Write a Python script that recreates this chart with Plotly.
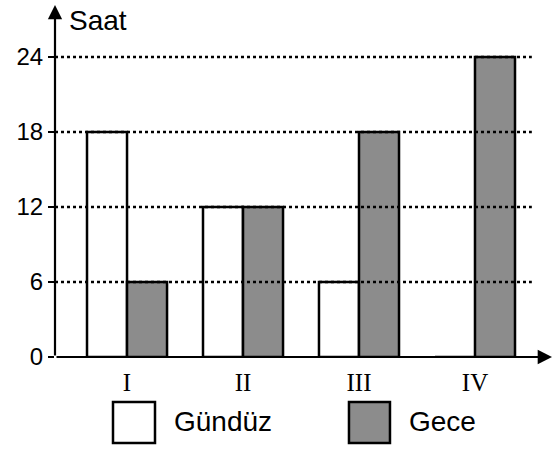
import plotly.graph_objects as go

categories = [1, 2, 3, 4]
category_labels = ["I", "II", "III", "IV"]
gunduz = [18, 12, 6, 0]
gece = [6, 12, 18, 24]
y_ticks = [0, 6, 12, 18, 24]
series_names = ["Gündüz", "Gece"]
axis_title = "Saat"

X0, X1 = 0.379, 4.664
Y1 = 28.16

fig = go.Figure()
fig.add_trace(go.Bar(x=categories, y=gunduz, name=series_names[0],
                     marker=dict(color="white", line=dict(color="black", width=2.5))))
fig.add_trace(go.Bar(x=categories, y=gece, name=series_names[1],
                     marker=dict(color="#8c8c8c", line=dict(color="black", width=2.5))))

# dotted gridlines
for v in y_ticks[1:]:
    fig.add_shape(type="line", xref="x", yref="y", x0=X0, x1=4.49, y0=v, y1=v,
                  line=dict(color="black", width=2.5, dash="dot"), layer="above")

# axes with arrows
fig.add_annotation(x=X0, y=Y1, ax=X0, ay=0, xref="x", yref="y", axref="x", ayref="y",
                   showarrow=True, arrowhead=2, arrowsize=1.3, arrowwidth=2.2, arrowcolor="black", text="")
fig.add_annotation(x=X1, y=0, ax=X0, ay=0, xref="x", yref="y", axref="x", ayref="y",
                   showarrow=True, arrowhead=2, arrowsize=1.3, arrowwidth=2.2, arrowcolor="black", text="")

fig.add_annotation(x=0.482, y=26.9, xref="x", yref="y", text=axis_title, showarrow=False,
                   xanchor="left", yanchor="middle",
                   font=dict(family="Liberation Sans", size=28, color="black"))

# custom legend
legend_boxes = [(0.1167, 0.2012, "white"), (0.5915, 0.674, "#8c8c8c")]
legend_text_x = [0.2354, 0.7082]
for (bx0, bx1, col), tx, name in zip(legend_boxes, legend_text_x, series_names):
    fig.add_shape(type="rect", xref="paper", yref="paper", x0=bx0, x1=bx1, y0=-0.244, y1=-0.128,
                  fillcolor=col, line=dict(color="black", width=2.5))
    fig.add_annotation(x=tx, y=-0.182, xref="paper", yref="paper", text=name, showarrow=False,
                       xanchor="left", yanchor="middle",
                       font=dict(family="Liberation Sans", size=28, color="black"))

fig.update_layout(
    width=553, height=450,
    margin=dict(l=55, r=1, t=5, b=93, autoexpand=False),
    plot_bgcolor="white", paper_bgcolor="white",
    barmode="group", bargap=0.31, bargroupgap=0,
    showlegend=False,
    xaxis=dict(range=[X0, X1], tickvals=categories, ticktext=category_labels,
               showgrid=False, zeroline=False, showline=False, ticks="", automargin=False,
               ticklabelstandoff=8,
               tickfont=dict(family="Liberation Serif", size=25, color="black")),
    yaxis=dict(range=[0, Y1], tickvals=y_ticks, showgrid=False, zeroline=False, automargin=False,
               showline=False, ticks="outside", ticklen=6, tickwidth=2, tickcolor="black",
               tickfont=dict(family="Liberation Sans", size=24, color="black")),
)

fig.write_html("out.html", config={"displayModeBar": False},
               post_script="document.body.style.margin='0';document.body.style.overflow='hidden';")
